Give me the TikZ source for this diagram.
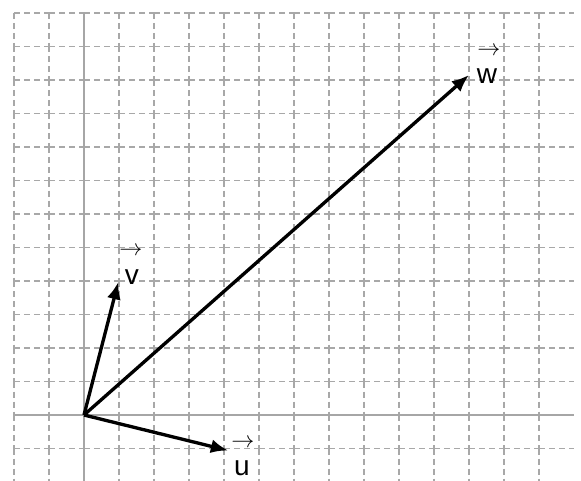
\documentclass[tikz,border=0pt]{standalone}
\usepackage{fontspec}
\setmainfont{Liberation Sans}
\usetikzlibrary{arrows.meta}
\definecolor{gridc}{RGB}{168,168,168}
\definecolor{axisc}{RGB}{166,166,166}
\tikzset{
  gridseg/.style={draw=gridc, line width=1.1pt, dash pattern=on 4.5pt off 3pt},
  axisline/.style={draw=axisc, line width=1.6pt},
  vecline/.style={draw=black, line width=2.5pt, -{Latex[length=13pt,width=10.5pt]}},
  vname/.style={inner sep=0pt, font=\fontsize{21}{21}\selectfont},
  varrow/.style={inner sep=0pt, font=\fontsize{16}{16}\selectfont}
}
\begin{document}
\begin{tikzpicture}[x=26.25pt, y=25.125pt]
\useasboundingbox (-2.4,-1.97) rectangle (14.2,12.388);
\begin{scope}
\clip (-2.4,-1.97) rectangle (14.2,12.388);
% grid, segment by segment
\foreach \x in {-2,...,13} {
  \foreach \y in {-2,...,11} {
    \draw[gridseg] (\x,\y+1) -- (\x,\y);
  }
}
\foreach \y in {-2,...,12} {
  \foreach \x in {-2,...,13} {
    \draw[gridseg] (\x,\y) -- (\x+1,\y);
  }
}
% axes
\coordinate (xl) at (-2,0);
\coordinate (xr) at (14,0);
\coordinate (yt) at (0,12);
\coordinate (yb) at (0,-2);
\draw[axisline] (xl) -- (xr);
\draw[axisline] (yt) -- (yb);
\end{scope}
% vectors
\coordinate (O) at (0,0);
\coordinate (U) at (4.12,-1.06);
\coordinate (V) at (0.98,3.97);
\coordinate (W) at (11,10.15);
\draw[vecline] (O) -- (U);
\draw[vecline] (O) -- (V);
\draw[vecline] (O) -- (W);
% labels
\node[vname] (lu) at (4.514,-1.582) {u};
\node[varrow] (au) at (4.543,-0.836) {$\rightarrow$};
\node[vname] (lv) at (1.371,4.119) {v};
\node[varrow] (av) at (1.343,4.896) {$\rightarrow$};
\node[vname] (lw) at (11.514,10.119) {w};
\node[varrow] (aw) at (11.571,10.866) {$\rightarrow$};
\end{tikzpicture}
\end{document}
